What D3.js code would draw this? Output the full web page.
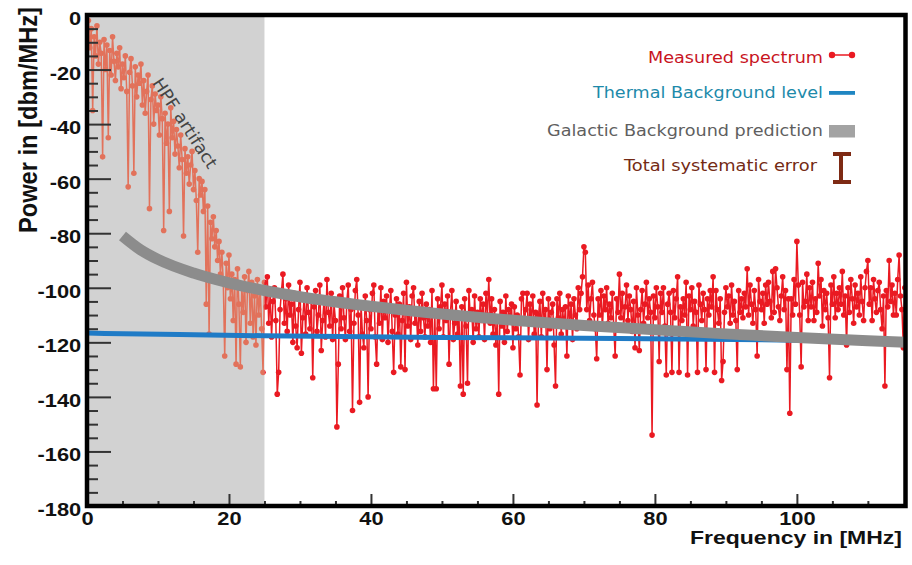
<!DOCTYPE html>
<html>
<head>
<meta charset="utf-8">
<script src="https://cdn.jsdelivr.net/npm/d3@7"></script>
<style>
  body { margin: 0; background: #fff; }
  svg { display: block; }
</style>
</head>
<body>
<svg id="chart" width="912" height="565"></svg>
<script>
// Measured power spectrum, one value per 0.2 MHz bin starting at 0 MHz (10 bins per row = 2 MHz)
const binWidth = 0.2;
const spectrum = [
  -6,-2,-12,-5,-35,-8,-15,-4,-18,-10,
  -14,-52,-9,-20,-11,-45,-13,-22,-8,-17,
  -24,-14,-19,-12,-27,-18,-23,-15,-28,-63,
  -21,-16,-26,-58,-19,-30,-22,-25,-18,-33,
  -24,-36,-28,-22,-71,-31,-26,-40,-29,-35,
  -33,-44,-30,-38,-79,-36,-47,-40,-72,-34,
  -45,-39,-51,-42,-48,-56,-44,-53,-81,-49,
  -58,-52,-62,-55,-50,-64,-57,-68,-87,-60,
  -66,-61,-72,-64,-106,-70,-117,-76,-82,-74,
  -85,-79,-90,-83,-95,-87,-98,-125,-91,-100,
  -88,-104,-95,-112,-97,-128,-93,-106,-129,-99,
  -109,-96,-120,-101,-94,-113,-98,-118,-103,-121,
  -97,-110,-100,-115,-131,-98,-107,-96,-113,-102,
  -118,-105,-100,-112,-139,-131,-108,-101,-95,-113,
  -104,-116,-99,-110,-106,-120,-102,-114,-122,-108,
  -98,-124,-111,-103,-117,-100,-109,-115,-105,-133,
  -107,-101,-116,-110,-99,-123,-112,-104,-118,-97,
  -109,-114,-102,-119,-106,-112,-151,-128,-103,-115,
  -100,-111,-119,-105,-99,-116,-108,-145,-113,-101,
  -97,-110,-142,-106,-117,-122,-103,-112,-140,-108,
  -115,-102,-99,-118,-128,-107,-113,-100,-119,-105,
  -111,-103,-120,-108,-101,-116,-131,-110,-104,-117,
  -106,-129,-112,-102,-130,-98,-114,-107,-119,-103,
  -100,-113,-109,-121,-105,-116,-102,-111,-118,-106,
  -114,-108,-120,-101,-137,-110,-137,-104,-115,-107,
  -99,-118,-106,-112,-103,-128,-109,-101,-119,-113,
  -105,-117,-110,-136,-107,-139,-104,-114,-135,-101,
  -111,-108,-120,-103,-115,-109,-118,-104,-112,-106,
  -119,-102,-110,-97,-113,-104,-117,-108,-121,-111,
  -139,-105,-114,-109,-120,-103,-116,-108,-112,-106,
  -122,-107,-115,-110,-118,-132,-104,-102,-113,-108,
  -102,-119,-106,-112,-103,-117,-109,-143,-110,-105,
  -118,-102,-113,-108,-130,-104,-115,-109,-106,-121,
  -136,-104,-111,-102,-117,-108,-114,-107,-125,-103,
  -113,-106,-119,-104,-110,-115,-100,-108,-102,-96,
  -85,-87,-108,-99,-112,-104,-98,-110,-115,-126,
  -104,-110,-101,-115,-103,-108,-100,-113,-106,-111,
  -102,-114,-125,-104,-109,-95,-111,-102,-114,-107,
  -99,-112,-103,-108,-116,-105,-122,-100,-110,-123,
  -108,-101,-113,-106,-98,-111,-104,-109,-154,-103,
  -111,-100,-107,-127,-102,-109,-100,-114,-132,-106,
  -102,-109,-131,-101,-111,-104,-96,-131,-107,-112,
  -104,-110,-98,-132,-103,-108,-100,-114,-105,-109,
  -131,-99,-106,-112,-102,-108,-130,-104,-110,-101,
  -107,-96,-131,-101,-108,-113,-104,-134,-127,-109,
  -100,-107,-103,-113,-99,-110,-105,-112,-130,-101,
  -109,-104,-111,-102,-107,-93,-110,-99,-106,-113,
  -101,-108,-125,-97,-105,-108,-102,-113,-99,-106,
  -98,-105,-111,-94,-109,-93,-100,-107,-112,-103,
  -96,-108,-101,-130,-104,-146,-104,-110,-97,-106,
  -83,-99,-110,-129,-98,-107,-105,-95,-112,-100,
  -107,-98,-112,-104,-109,-91,-103,-97,-114,-101,
  -108,-102,-111,-133,-99,-106,-96,-111,-102,-108,
  -100,-106,-94,-110,-103,-121,-100,-109,-97,-104,
  -113,-99,-107,-102,-110,-96,-105,-112,-100,-94,
  -90,-106,-100,-112,-97,-104,-109,-101,-98,-108,
  -115,-103,-136,-101,-107,-90,-105,-99,-110,-102,
  -110,-97,-88,-103,-108,-122,-100
];

// Thermal background level
const thermalFreq  = [0, 2.5, 13, 25, 50, 75, 100, 115.3];
const thermalPower = [-116.6, -116.8, -117.1, -117.6, -118.2, -118.6, -119.2, -119.6];

// Galactic background prediction
const galacticFreq  = [5, 7.5, 10, 15, 20, 25, 30, 40, 50, 60, 70, 80, 90, 100, 110, 115.3];
const galacticPower = [-81, -86, -89.6, -94.6, -98.2, -101, -103.3, -106.8, -109.6, -111.9, -113.8, -115.4, -116.9, -118.2, -119.4, -120];

// High-pass filter region
const hpfCutoff = 25;

// Axis ticks
const xMajorTicks = [0, 20, 40, 60, 80, 100];
const xMinorTicks = [5, 10, 15, 25, 30, 35, 45, 50, 55, 65, 70, 75, 85, 90, 95, 105, 110];
const yMajorTicks = [0, -20, -40, -60, -80, -100, -120, -140, -160, -180];
const yMinorTicks = [-5,-10,-15,-25,-30,-35,-45,-50,-55,-65,-70,-75,-85,-90,-95,-105,-110,-115,-125,-130,-135,-145,-150,-155,-165,-170,-175];

// Legend
const legendLabels = ["Measured spectrum", "Thermal Background level", "Galactic Background prediction", "Total systematic error"];
const legendColors = ["#c8141e", "#1d8aaa", "#5f5f5f", "#742a14"];

const svg = d3.select("#chart");
const W = 912, H = 565;
const plot = { left: 87, right: 905.5, top: 15, bottom: 506 };

const x = d3.scaleLinear().domain([0, 115.3]).range([plot.left, plot.right]);
const y = d3.scaleLinear().domain([-180, 0]).range([plot.bottom, plot.top]);

svg.append("rect").attr("width", W).attr("height", H).attr("fill", "#fff");

// shaded HPF band
svg.append("rect")
  .attr("x", x(0)).attr("y", y(0))
  .attr("width", x(hpfCutoff) - x(0))
  .attr("height", y(-180) - y(0))
  .attr("fill", "#d2d2d2");

const defs = svg.append("defs");
defs.append("clipPath").attr("id", "clip-hpf").append("rect")
  .attr("x", x(0)).attr("y", y(0))
  .attr("width", x(hpfCutoff) - x(0)).attr("height", y(-180) - y(0));
defs.append("clipPath").attr("id", "clip-main").append("rect")
  .attr("x", x(hpfCutoff)).attr("y", y(0))
  .attr("width", plot.right - x(hpfCutoff)).attr("height", y(-180) - y(0));
defs.append("clipPath").attr("id", "clip-plot").append("rect")
  .attr("x", plot.left).attr("y", plot.top)
  .attr("width", plot.right - plot.left).attr("height", plot.bottom - plot.top);

const points = spectrum.map((p, i) => ({ f: i * binWidth, p }));
const line = d3.line().x(d => x(d.f)).y(d => y(d.p));

function drawSpectrum(clipId, color) {
  const g = svg.append("g").attr("clip-path", `url(#${clipId})`);
  g.append("path").datum(points)
    .attr("d", line)
    .attr("fill", "none")
    .attr("stroke", color)
    .attr("stroke-width", 1.5);
  g.selectAll("circle").data(points).join("circle")
    .attr("cx", d => x(d.f))
    .attr("cy", d => y(d.p))
    .attr("r", 2.8)
    .attr("fill", color);
}
drawSpectrum("clip-hpf", "#e2725b");
drawSpectrum("clip-main", "#ea1a22");

const overlay = svg.append("g").attr("clip-path", "url(#clip-plot)");

// thermal level
overlay.append("path")
  .datum(thermalFreq.map((f, i) => ({ f, p: thermalPower[i] })))
  .attr("d", line)
  .attr("fill", "none")
  .attr("stroke", "#1f7bc6")
  .attr("stroke-width", 5);

// galactic prediction
overlay.append("path")
  .datum(galacticFreq.map((f, i) => ({ f, p: galacticPower[i] })))
  .attr("d", d3.line().x(d => x(d.f)).y(d => y(d.p)).curve(d3.curveMonotoneX))
  .attr("fill", "none")
  .attr("stroke", "#8c8c8c")
  .attr("stroke-width", 11)
  .attr("stroke-linecap", "butt");

// HPF label
svg.append("text")
  .attr("transform", "translate(185,123) rotate(57)")
  .attr("x", -52).attr("dy", "0.35em")
  .attr("textLength", 104).attr("lengthAdjust", "spacingAndGlyphs")
  .attr("font-family", "DejaVu Sans, sans-serif")
  .attr("font-size", 17)
  .attr("fill", "#454545")
  .text("HPF artifact");

// axes
const tickFont = "Liberation Sans, Arial, Helvetica, sans-serif";
function styleAxis(g) {
  g.select(".domain").remove();
  g.selectAll(".tick line").attr("stroke", "#333").attr("stroke-width", 2);
}

const yMajor = svg.append("g").attr("transform", `translate(${plot.left},0)`)
  .call(d3.axisLeft(y).tickValues(yMajorTicks).tickSize(-24).tickPadding(5).tickFormat(d => String(d)));
styleAxis(yMajor);
yMajor.selectAll(".tick text")
  .attr("font-family", tickFont).attr("font-weight", "bold").attr("font-size", 19)
  .attr("fill", "#111").attr("dy", "0.5em")
  .attr("transform", "scale(1.15,1)");

const yMinor = svg.append("g").attr("transform", `translate(${plot.left},0)`)
  .call(d3.axisLeft(y).tickValues(yMinorTicks).tickSize(-11).tickFormat(""));
styleAxis(yMinor);

const xMajor = svg.append("g").attr("transform", `translate(0,${plot.bottom})`)
  .call(d3.axisBottom(x).tickValues(xMajorTicks).tickSize(-12).tickPadding(6).tickFormat(d => String(d)));
styleAxis(xMajor);
xMajor.selectAll(".tick text")
  .attr("font-family", tickFont).attr("font-weight", "bold").attr("font-size", 19)
  .attr("fill", "#111")
  .attr("transform", "scale(1.15,1)");

const xMinor = svg.append("g").attr("transform", `translate(0,${plot.bottom})`)
  .call(d3.axisBottom(x).tickValues(xMinorTicks).tickSize(-5).tickFormat(""));
styleAxis(xMinor);

// frame
svg.append("rect")
  .attr("x", plot.left).attr("y", plot.top)
  .attr("width", plot.right - plot.left).attr("height", plot.bottom - plot.top)
  .attr("fill", "none").attr("stroke", "#000").attr("stroke-width", 4.5);

// axis titles
svg.append("text")
  .attr("x", 690).attr("y", 544)
  .attr("textLength", 212).attr("lengthAdjust", "spacingAndGlyphs")
  .attr("font-family", tickFont).attr("font-weight", "bold").attr("font-size", 18)
  .attr("fill", "#111")
  .text("Frequency in [MHz]");

svg.append("text")
  .attr("transform", "translate(37,233) rotate(-90) scale(1,1.1)")
  .attr("textLength", 226).attr("lengthAdjust", "spacingAndGlyphs")
  .attr("font-family", tickFont).attr("font-weight", "bold").attr("font-size", 23.6)
  .attr("fill", "#111")
  .text("Power in [dbm/MHz]");

// legend
const legendBaselines = [63, 98, 136, 171];
const legendRight = [823, 823, 823, 817];
const legendWidths = [175, 230, 276, 193];
const legend = svg.append("g");
legendLabels.forEach((label, i) => {
  legend.append("text")
    .attr("x", legendRight[i] - legendWidths[i]).attr("y", legendBaselines[i])
    .attr("textLength", legendWidths[i]).attr("lengthAdjust", "spacingAndGlyphs")
    .attr("font-family", "DejaVu Sans, sans-serif").attr("font-size", 16)
    .attr("fill", legendColors[i])
    .text(label);
});
// spectrum symbol
legend.append("line").attr("x1", 832).attr("x2", 852).attr("y1", 55).attr("y2", 55)
  .attr("stroke", "#ea1a22").attr("stroke-width", 1.5);
legend.selectAll("circle.sym").data([832, 852]).join("circle")
  .attr("cx", d => d).attr("cy", 55).attr("r", 3.2).attr("fill", "#ea1a22");
// thermal symbol
legend.append("rect").attr("x", 829).attr("y", 91).attr("width", 26).attr("height", 3.8).attr("fill", "#1f86c2");
// galactic symbol
legend.append("rect").attr("x", 829).attr("y", 125).attr("width", 26).attr("height", 12.5).attr("fill", "#a3a3a3");
// systematic error symbol
const err = legend.append("g").attr("stroke", "#7e2a14").attr("stroke-width", 4);
err.append("line").attr("x1", 841).attr("x2", 841).attr("y1", 154).attr("y2", 182);
err.append("line").attr("x1", 833).attr("x2", 851).attr("y1", 154).attr("y2", 154);
err.append("line").attr("x1", 833).attr("x2", 851).attr("y1", 182).attr("y2", 182);
</script>
</body>
</html>
